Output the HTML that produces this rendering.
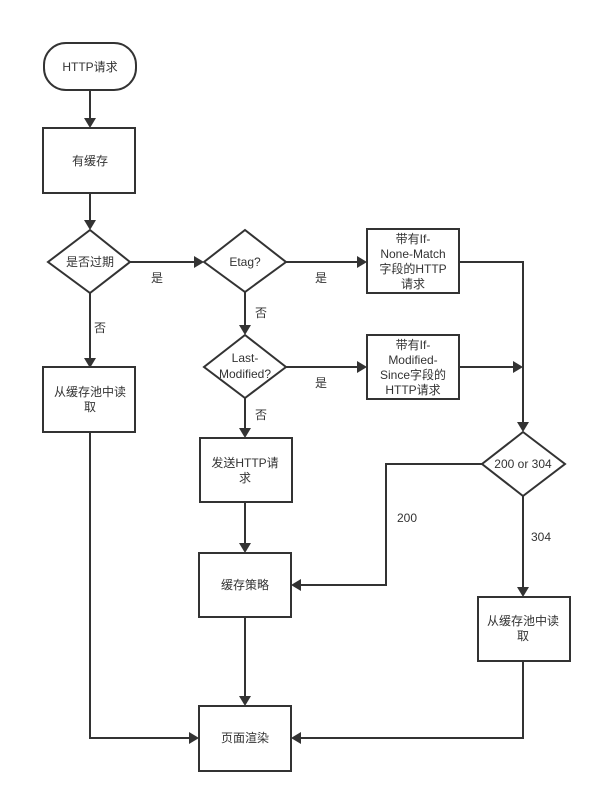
<!DOCTYPE html>
<html><head><meta charset="utf-8"><style>
html,body{margin:0;padding:0;background:#fff;}
svg{display:block;}
text{font-family:"Liberation Sans","Noto Sans CJK SC",sans-serif;font-size:12px;fill:#333;text-anchor:middle;}
.s{fill:#fff;stroke:#333;stroke-width:2;}
.l{fill:none;stroke:#333;stroke-width:2;}
.a{fill:#333;}
</style></head><body>
<svg width="606" height="800" viewBox="0 0 606 800" xmlns="http://www.w3.org/2000/svg">
<!-- connectors -->
<path class="l" d="M90 90V118 M90 193V222 M130 262H195 M90 293V359 M245 292V327 M286 262H358 M245 398V430 M286 367H358 M459 262H523V424 M459 367H514 M482 464H386V585H300 M523 496V589 M245 502V545 M245 617V697 M90 432V738H190 M523 661V738H300"/>
<!-- arrowheads -->
<polygon class="a" points="84,118 96,118 90,128"/>
<polygon class="a" points="84,220 96,220 90,230"/>
<polygon class="a" points="194,256 194,268 204,262"/>
<polygon class="a" points="84,358 96,358 90,368"/>
<polygon class="a" points="239,325 251,325 245,335"/>
<polygon class="a" points="357,256 357,268 367,262"/>
<polygon class="a" points="239,428 251,428 245,438"/>
<polygon class="a" points="357,361 357,373 367,367"/>
<polygon class="a" points="513,361 513,373 523,367"/>
<polygon class="a" points="517,422 529,422 523,432"/>
<polygon class="a" points="301,579 301,591 291,585"/>
<polygon class="a" points="517,587 529,587 523,597"/>
<polygon class="a" points="239,543 251,543 245,553"/>
<polygon class="a" points="239,696 251,696 245,706"/>
<polygon class="a" points="189,732 189,744 199,738"/>
<polygon class="a" points="301,732 301,744 291,738"/>
<!-- shapes -->
<rect class="s" x="44" y="43" width="92" height="47" rx="22"/>
<text x="90" y="71">HTTP请求</text>
<rect class="s" x="43" y="128" width="92" height="65"/>
<text x="90" y="165">有缓存</text>
<polygon class="s" points="90,230 130,262 90,293 48,262"/>
<text x="90" y="266">是否过期</text>
<polygon class="s" points="245,230 286,262 245,292 204,262"/>
<text x="245" y="266">Etag?</text>
<polygon class="s" points="245,335 286,367 245,398 204,367"/>
<text x="245" y="362">Last-</text><text x="245" y="378">Modified?</text>
<rect class="s" x="43" y="367" width="92" height="65"/>
<text x="90" y="396">从缓存池中读</text><text x="90" y="411">取</text>
<rect class="s" x="367" y="229" width="92" height="64"/>
<text x="413" y="243">带有If-</text><text x="413" y="258">None-Match</text><text x="413" y="273">字段的HTTP</text><text x="413" y="288">请求</text>
<rect class="s" x="367" y="335" width="92" height="64"/>
<text x="413" y="349">带有If-</text><text x="413" y="364">Modified-</text><text x="413" y="379">Since字段的</text><text x="413" y="394">HTTP请求</text>
<polygon class="s" points="523,432 565,464 523,496 482,464"/>
<text x="523" y="468">200 or 304</text>
<rect class="s" x="200" y="438" width="92" height="64"/>
<text x="245" y="467">发送HTTP请</text><text x="245" y="482">求</text>
<rect class="s" x="199" y="553" width="92" height="64"/>
<text x="245" y="589">缓存策略</text>
<rect class="s" x="478" y="597" width="92" height="64"/>
<text x="523" y="625">从缓存池中读</text><text x="523" y="640">取</text>
<rect class="s" x="199" y="706" width="92" height="65"/>
<text x="245" y="742">页面渲染</text>
<!-- labels -->
<text x="157" y="282">是</text>
<text x="100" y="332">否</text>
<text x="321" y="282">是</text>
<text x="261" y="317">否</text>
<text x="321" y="387">是</text>
<text x="261" y="419">否</text>
<text x="407" y="522">200</text>
<text x="541" y="541">304</text>
</svg>
</body></html>
